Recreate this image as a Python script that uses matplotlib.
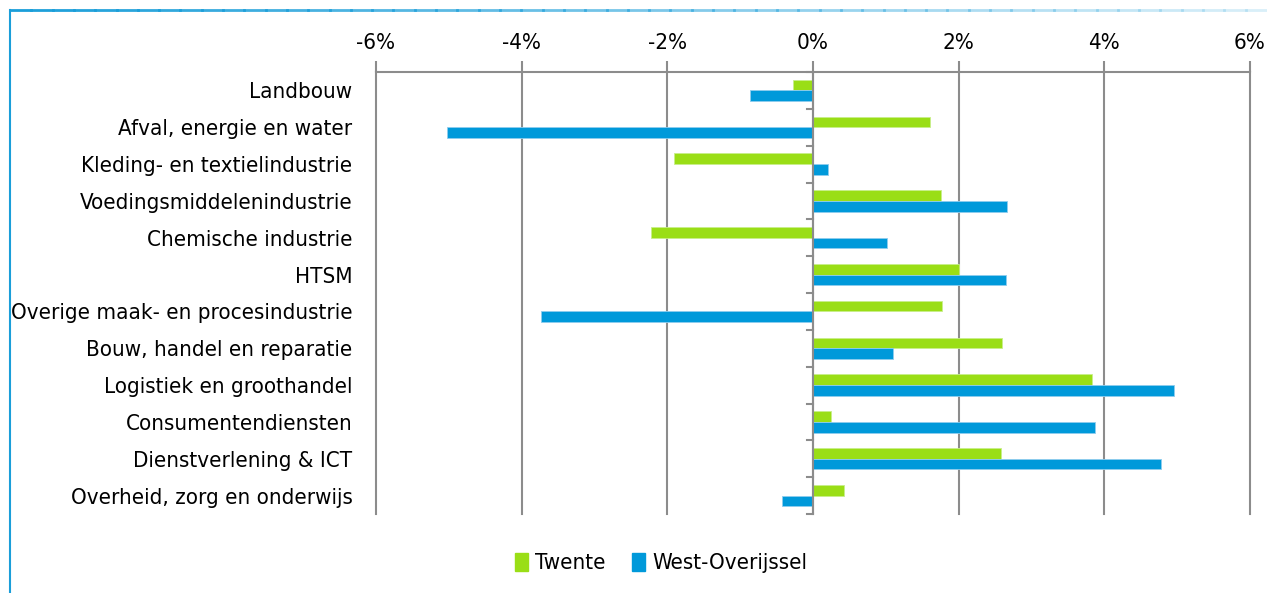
import numpy as np
import matplotlib.pyplot as plt
from matplotlib.lines import Line2D
from matplotlib.patches import Patch

categories = ['Landbouw', 'Afval, energie en water', 'Kleding- en textielindustrie',
              'Voedingsmiddelenindustrie', 'Chemische industrie', 'HTSM',
              'Overige maak- en procesindustrie', 'Bouw, handel en reparatie',
              'Logistiek en groothandel', 'Consumentendiensten',
              'Dienstverlening & ICT', 'Overheid, zorg en onderwijs']
twente = [-0.28, 1.61, -1.91, 1.76, -2.22, 2.00, 1.77, 2.59, 3.83, 0.25, 2.58, 0.43]
west_overijssel = [-0.86, -5.03, 0.20, 2.66, 1.02, 2.65, -3.73, 1.10, 4.95, 3.87, 4.78, -0.42]
ticks = [-6, -4, -2, 0, 2, 4, 6]
tick_labels = ['-6%', '-4%', '-2%', '0%', '2%', '4%', '6%']

green = '#9ade16'
blue = '#0099da'
grid_col = '#8c8c8c'

plt.rcParams['font.family'] = ['DejaVu Sans']
plt.rcParams['font.stretch'] = 'condensed'

fig = plt.figure(figsize=(12.67, 5.93), dpi=100)
ax = fig.add_axes([376 / 1267, 1 - 514 / 593, (1250 - 376) / 1267, (514 - 72) / 593])

y = np.arange(len(categories))
h = 0.29
ax.barh(y - h / 2, twente, height=h, color=green, edgecolor='#c8ee8a', linewidth=0.6, label='Twente', zorder=3)
ax.barh(y + h / 2, west_overijssel, height=h, color=blue, edgecolor='#8fcdee', linewidth=0.6,
        label='West-Overijssel', zorder=3)

ax.set_xlim(-6, 6)
ax.set_ylim(len(categories) - 0.5, -0.5)
ax.xaxis.tick_top()
ax.set_xticks(ticks)
ax.set_xticklabels(tick_labels, fontsize=16)
ax.tick_params(axis='x', length=8, width=1.5, color=grid_col, pad=6)
ax.grid(axis='x', color=grid_col, linewidth=1.5, zorder=0)
for t in ax.xaxis.get_gridlines():
    t.set_clip_on(False)

ax.set_yticks(y)
ax.set_yticklabels(categories, fontsize=16)
ax.tick_params(axis='y', length=0, pad=17)

for s in ['left', 'right', 'bottom']:
    ax.spines[s].set_visible(False)
ax.spines['top'].set_color(grid_col)
ax.spines['top'].set_linewidth(1.5)

# y axis at zero with category separator ticks
ax.axvline(0, color=grid_col, linewidth=1.5, zorder=4)
for b in np.arange(len(categories) + 1) - 0.5:
    ax.add_line(Line2D([-0.08, 0], [b, b], color=grid_col, linewidth=1.5, clip_on=False, zorder=4))

handles = [Patch(color=green, label='Twente'), Patch(color=blue, label='West-Overijssel')]
fig.legend(handles=handles, loc='center', bbox_to_anchor=(661 / 1267, 1 - 563 / 593), ncol=2,
           frameon=False, fontsize=16, handlelength=0.6, handleheight=0.9, handletextpad=0.3,
           columnspacing=1.2)

# frame of the figure box
fig.add_artist(Line2D([10 / 1267, 10 / 1267], [0, 1 - 10 / 593], color='#1a9ed9', linewidth=1.5))
xs = np.linspace(10, 1267, 60)
for i in range(len(xs) - 1):
    a = 1 - i / (len(xs) - 1) * 0.85
    fig.add_artist(Line2D([xs[i] / 1267, xs[i + 1] / 1267], [1 - 10 / 593] * 2,
                          color='#1a9ed9', alpha=a, linewidth=2))

fig.savefig('out.png', dpi=100)
